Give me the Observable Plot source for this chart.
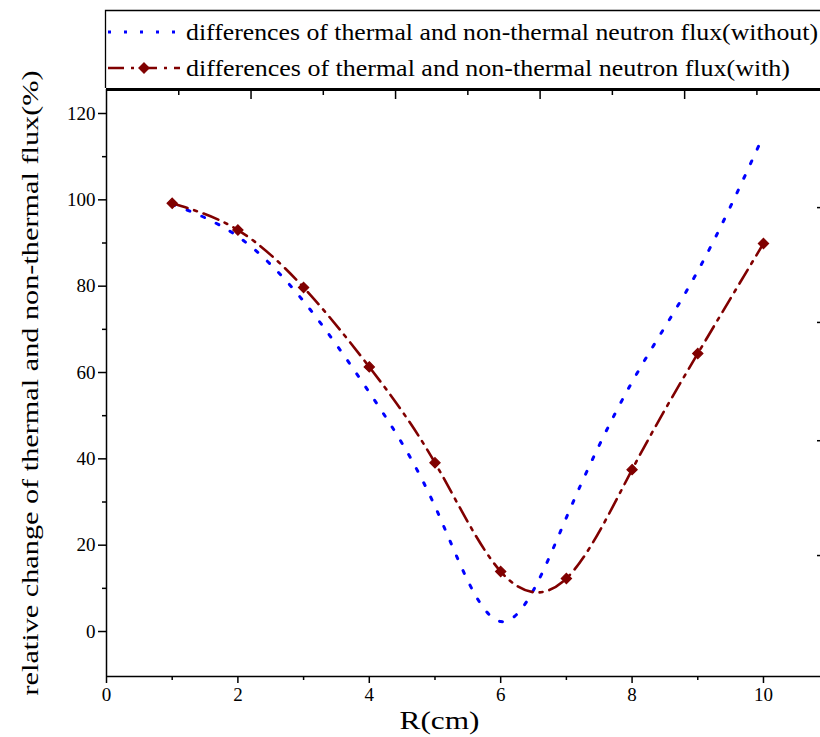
<!DOCTYPE html>
<html>
<head>
<meta charset="utf-8">
<script src="https://cdn.jsdelivr.net/npm/d3@7"></script>
<script src="https://cdn.jsdelivr.net/npm/@observablehq/plot@0.6"></script>
<style>
  body { margin: 0; background: #fff; font-family: "Liberation Serif", "Times New Roman", serif; }
  #wrap { position: relative; width: 820px; height: 737px; overflow: hidden; background: #fff; }
  #legend { position: absolute; left: 0; top: 0; }
  #chart { position: absolute; left: 0; top: 88px; }
</style>
</head>
<body>
<div id="wrap">
  <svg id="legend" width="820" height="90"></svg>
  <div id="chart"></div>
</div>
<script>
// ---- data ----
const R = [1, 2, 3, 4, 5, 6, 7, 8, 9, 10];
const withoutFlux = [99.0, 91.5, 76.5, 55.4, 29.0, 2.3, 26.4, 57.8, 83.5, 114.9];
const withFlux = [99.2, 93.0, 79.7, 61.3, 39.1, 13.9, 12.3, 37.5, 64.4, 89.9];
const seriesNames = [
  "differences of thermal and non-thermal neutron flux(without)",
  "differences of thermal and non-thermal neutron flux(with)"
];
const xTicks = [0, 2, 4, 6, 8, 10];
const xMinorTicks = [1, 3, 5, 7, 9];
const yTicks = [0, 20, 40, 60, 80, 100, 120];
const yMinorTicks = [10, 30, 50, 70, 90, 110];
const topMajorTicks = [2.2, 4.4, 6.6, 8.8];
const topMinorTicks = [1.1, 3.3, 5.5, 7.7, 9.9];
const rightTicks = [17.6, 44.2, 71.6, 98.2];
const xLabel = "R(cm)";
const yLabel = "relative change of thermal and non-thermal flux(%)";

// ---- styles ----
const BLUE = "#0000ff";
const RED = "#800000";
const blueDash = "3,13";
const redDash = "16,7,3,7";
const FONT = '"Liberation Serif", "Times New Roman", serif';

const rowsWithout = R.map((r, i) => ({R: r, v: withoutFlux[i]}));
const rowsWith = R.map((r, i) => ({R: r, v: withFlux[i]}));

const xDomain = [0, 10.868];
const yDomain = [-10.42, 125.56];
const H = 649, MT = 1, MB = 61;

const chart = Plot.plot({
  width: 820,
  height: H,
  marginTop: MT,
  marginBottom: MB,
  marginLeft: 106,
  marginRight: 0,
  style: {fontFamily: FONT, fontSize: "19px", color: "#000", background: "#fff", overflow: "visible"},
  x: {domain: xDomain},
  y: {domain: yDomain},
  marks: [
    Plot.axisX({ticks: xTicks, tickSize: 7, tickPadding: 4, fontSize: 19, label: null, strokeWidth: 1.5}),
    Plot.axisX({ticks: xMinorTicks, tickSize: 4, text: null, label: null, strokeWidth: 1.5}),
    Plot.axisY({ticks: yTicks, tickSize: 8, tickPadding: 3, fontSize: 19, label: yLabel,
      labelAnchor: "center", labelArrow: "none", labelOffset: 86, strokeWidth: 1.5}),
    Plot.axisY({ticks: yMinorTicks, tickSize: 4, text: null, label: null, strokeWidth: 1.5}),
    Plot.axisX({anchor: "top", ticks: topMajorTicks, tickSize: 9, dy: 9, text: null, label: null, strokeWidth: 1.5}),
    Plot.axisX({anchor: "top", ticks: topMinorTicks, tickSize: 5, dy: 5, text: null, label: null, strokeWidth: 1.5}),
    Plot.tickY(rightTicks, {y: d => d, insetLeft: 820 - 106 - 3, strokeWidth: 1.5}),
    Plot.ruleX([xDomain[0]], {strokeWidth: 1.5}),
    Plot.ruleY([yDomain[0]], {strokeWidth: 1.5}),
    Plot.ruleY([yDomain[1]], {strokeWidth: 3}),
    Plot.line(rowsWithout, {x: "R", y: "v", stroke: BLUE, strokeWidth: 3, strokeDasharray: blueDash, curve: "natural"}),
    Plot.line(rowsWith, {x: "R", y: "v", stroke: RED, strokeWidth: 2.6, strokeDasharray: redDash, curve: "natural"}),
    Plot.dot(rowsWith, {x: "R", y: "v", symbol: "diamond2", r: 4.6, fill: RED, stroke: RED, strokeWidth: 1.2}),
    Plot.text([xLabel], {frameAnchor: "bottom", dx: -24, dy: 44, fontSize: 26, lineAnchor: "middle", fill: "#000"})
  ]
});
document.getElementById("chart").appendChild(chart);

// label sizing (style only)
const svg = d3.select(chart);
svg.select('g[aria-label="y-axis label"] text')
  .attr("font-size", 24)
  .attr("textLength", 625)
  .attr("lengthAdjust", "spacingAndGlyphs");
svg.selectAll('g[aria-label="text"] text')
  .attr("textLength", 80)
  .attr("lengthAdjust", "spacingAndGlyphs");

// ---- legend ----
const leg = d3.select("#legend");
leg.append("path").attr("d", "M105.5,88 V10.5 H820")
  .attr("fill", "none").attr("stroke", "#000").attr("stroke-width", 1.3);
const rowsY = [32, 68];
leg.append("line").attr("x1", 108).attr("x2", 180).attr("y1", rowsY[0]).attr("y2", rowsY[0])
  .attr("stroke", BLUE).attr("stroke-width", 3).attr("stroke-dasharray", blueDash);
leg.append("line").attr("x1", 108).attr("x2", 180).attr("y1", rowsY[1]).attr("y2", rowsY[1])
  .attr("stroke", RED).attr("stroke-width", 2.6).attr("stroke-dasharray", redDash);
leg.append("path").attr("d", d3.symbol(d3.symbolDiamond2, Math.PI * 4.6 * 4.6)())
  .attr("transform", `translate(144,${rowsY[1]})`).attr("fill", RED).attr("stroke", RED).attr("stroke-width", 1.2);
const lens = [632, 604];
seriesNames.forEach((name, i) => {
  leg.append("text").attr("x", 186).attr("y", rowsY[i]).attr("dy", "0.35em")
    .attr("font-family", FONT).attr("font-size", 24).attr("fill", "#000")
    .attr("textLength", lens[i]).attr("lengthAdjust", "spacingAndGlyphs")
    .text(name);
});
</script>
</body>
</html>
